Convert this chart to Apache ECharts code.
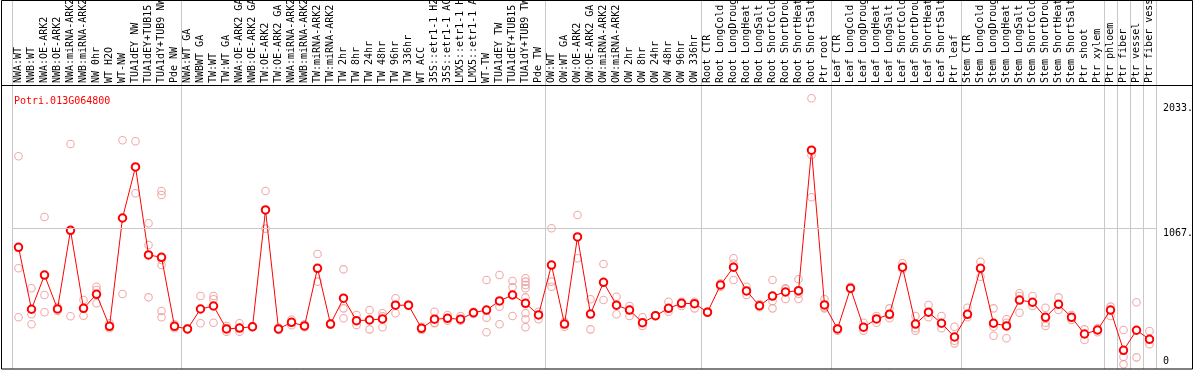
<!DOCTYPE html>
<html>
<head>
<meta charset="utf-8">
<script src="https://cdn.jsdelivr.net/npm/echarts@6/dist/echarts.min.js"></script>
<style>
html, body { margin: 0; padding: 0; background: #fff; }
#main { width: 1194px; height: 370px; }
</style>
</head>
<body>
<div id="main"></div>
<script>
var geneName = 'Potri.013G064800';

var samples = [
  'NWA:WT', 'NWB:WT', 'NWA:OE-ARK2', 'NWB:OE-ARK2', 'NWA:miRNA-ARK2', 'NWB:miRNA-ARK2',
  'NW 0hr', 'WT H2O', 'WT-NW', 'TUA1dEY NW', 'TUA1dEY+TUB15 NW', 'TUA1dY+TUB9 NW', 'Pde NW',
  'NWA:WT GA', 'NWBWT GA', 'TW:WT', 'TW:WT GA', 'NWA:OE-ARK2 GA', 'NWB:OE-ARK2 GA',
  'TW:OE-ARK2', 'TW:OE-ARK2 GA', 'NWA:miRNA-ARK2 GA', 'NWB:miRNA-ARK2 GA', 'TW:miRNA-ARK2',
  'TW:miRNA-ARK2 GA', 'TW 2hr', 'TW 8hr', 'TW 24hr', 'TW 48hr', 'TW 96hr', 'TW 336hr',
  'WT ACC', '35S::etr1-1 H2O', '35S::etr1-1 ACC', 'LMX5::etr1-1 H2O', 'LMX5::etr1-1 ACC',
  'WT-TW', 'TUA1dEY TW', 'TUA1dEY+TUB15 TW', 'TUA1dY+TUB9 TW', 'Pde TW',
  'OW:WT', 'OW:WT GA', 'OW:OE-ARK2', 'OW:OE-ARK2 GA', 'OW:miRNA-ARK2', 'OW:miRNA-ARK2 GA',
  'OW 2hr', 'OW 8hr', 'OW 24hr', 'OW 48hr', 'OW 96hr', 'OW 336hr',
  'Root CTR', 'Root LongCold', 'Root LongDrought', 'Root LongHeat', 'Root LongSalt',
  'Root ShortCold', 'Root ShortDrought', 'Root ShortHeat', 'Root ShortSalt', 'Ptr root',
  'Leaf CTR', 'Leaf LongCold', 'Leaf LongDrought', 'Leaf LongHeat', 'Leaf LongSalt',
  'Leaf ShortCold', 'Leaf ShortDrought', 'Leaf ShortHeat', 'Leaf ShortSalt', 'Ptr leaf',
  'Stem CTR', 'Stem LongCold', 'Stem LongDrought', 'Stem LongHeat', 'Stem LongSalt',
  'Stem ShortCold', 'Stem ShortDrought', 'Stem ShortHeat', 'Stem ShortSalt', 'Ptr shoot',
  'Ptr xylem', 'Ptr phloem', 'Ptr fiber', 'Ptr vessel', 'Ptr fiber vessel'
];

var means = [
  922, 444, 708, 446, 1053, 451, 559, 312, 1148, 1542,
  863, 845, 312, 292, 446, 469, 292, 299, 309, 1210,
  292, 343, 315, 760, 330, 529, 356, 361, 369, 475,
  475, 297, 367, 374, 367, 417, 438, 508, 554, 490,
  400, 785, 330, 1002, 407, 652, 475, 438, 340, 394,
  451, 490, 487, 421, 631, 768, 585, 471, 546, 577,
  587, 1671, 477, 292, 606, 305, 369, 405, 768, 330,
  421, 336, 230, 405, 760, 336, 315, 515, 498, 382,
  482, 382, 253, 284, 438, 127, 282, 212
];

var replicates = [
  [1624, 760, 382], [606, 405, 328], [1156, 554, 421], [462, 446, 430], [1719, 390],
  [515, 394], [618, 593, 490], [336, 297], [1748, 562], [1740, 1339],
  [1107, 940, 536], [1356, 1326, 824, 785, 431, 382], [328, 297], [297, 288], [546, 336],
  [546, 521, 340], [315, 297, 271], [336, 271], [312, 305], [1356, 1066],
  [302, 284], [365, 345, 320], [328, 305], [870, 657], [335, 325],
  [752, 451, 374], [400, 323], [438, 289], [413, 389, 305], [529, 413],
  [480, 470], [309, 284], [425, 340, 336], [400, 356], [392, 356],
  [425, 407], [670, 379, 266], [708, 464, 328], [662, 613, 392], [683, 657, 631, 606, 536, 413, 367, 305],
  [425, 367], [1069, 657, 618], [348, 309], [1171, 837], [521, 289],
  [793, 515], [541, 405], [469, 392], [382, 315], [398, 390],
  [502, 425], [502, 469], [502, 451], [427, 415], [644, 618],
  [837, 797, 670], [618, 554], [485, 459], [670, 508, 451], [606, 600, 523],
  [675, 563, 523], [2072, 1634, 1308], [521, 460, 451], [297, 279], [618, 598],
  [340, 279], [392, 340], [451, 374], [799, 752], [392, 297, 279],
  [477, 382], [392, 297], [309, 201, 181], [456, 382], [811, 695],
  [451, 309, 240], [367, 340, 220], [567, 546, 417], [546, 469], [456, 340, 315],
  [536, 438], [400, 361], [289, 207], [297, 266], [464, 392],
  [284, 78, 19], [498, 73], [276, 174]
];

// first sample of each group; a separator is drawn before it
var groupStarts = [0, 13, 41, 53, 63, 73, 84, 85, 86, 87];
var yTicks = [0, 1067, 2033];
var yTickLabels = ['0', '1067.', '2033.'];
var refLine = 1067;

var repPoints = [];
replicates.forEach(function (r, i) {
  r.forEach(function (v) { repPoints.push([i, v]); });
});

var mono = 'DejaVu Sans Mono';
var chart = echarts.init(document.getElementById('main'));

chart.setOption({
  animation: false,
  title: {
    text: geneName,
    left: 9,
    top: 91,
    textStyle: { color: '#ff0000', fontFamily: mono, fontSize: 10, fontWeight: 'normal' }
  },
  grid: { left: 12, right: 38, top: 0, bottom: 1, outerBoundsMode: 'none', containLabel: false },
  xAxis: {
    type: 'category',
    data: samples,
    position: 'top',
    offset: -85,
    axisLine: { show: false },
    axisTick: { show: false },
    axisLabel: {
      interval: 0, rotate: 90, margin: 2, hideOverlap: false,
      fontFamily: mono, fontSize: 10, color: '#000'
    },
    splitLine: {
      show: true,
      interval: function (i) { return groupStarts.indexOf(i) >= 0; },
      lineStyle: { color: '#c8c8c8', width: 1 }
    }
  },
  yAxis: {
    type: 'value',
    position: 'right',
    min: -17,
    max: 2830,
    axisLine: { show: false },
    axisTick: { show: false },
    splitLine: { show: false },
    axisLabel: {
      customValues: yTicks,
      margin: 7,
      fontFamily: mono, fontSize: 10, color: '#000', lineHeight: 10,
      formatter: function (v) {
        var t = yTickLabels[yTicks.indexOf(v)];
        return v === 0 ? t + '\n{s| }' : '{s| }\n' + t;
      },
      rich: { s: { fontSize: 10, lineHeight: 10 } }
    }
  },
  graphic: [
    { type: 'rect', z: 100, silent: true,
      shape: { x: 1.5, y: 0.5, width: 1191, height: 368.5 },
      style: { fill: 'none', stroke: '#000', lineWidth: 1 } },
    { type: 'line', z: 100, silent: true,
      shape: { x1: 1, y1: 85.5, x2: 1193, y2: 85.5 },
      style: { stroke: '#000', lineWidth: 1 } }
  ],
  series: [
    {
      type: 'scatter',
      data: repPoints,
      symbol: 'circle',
      symbolSize: 7.5,
      z: 2,
      itemStyle: { color: 'rgba(0,0,0,0)', borderColor: '#ee9494', borderWidth: 1.1 },
      markLine: {
        silent: true,
        symbol: 'none',
        label: { show: false },
        lineStyle: { color: '#c8c8c8', type: 'solid', width: 1 },
        data: [{ yAxis: refLine }]
      }
    },
    {
      type: 'line',
      data: means,
      symbol: 'emptyCircle',
      symbolSize: 7.5,
      z: 3,
      lineStyle: { color: '#ff0000', width: 1 },
      itemStyle: { color: '#ff0000', borderColor: '#ff0000', borderWidth: 1.4 }
    }
  ]
});
</script>
</body>
</html>
